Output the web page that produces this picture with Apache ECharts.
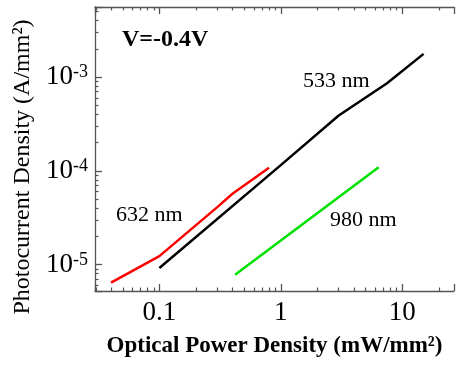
<!DOCTYPE html>
<html>
<head>
<meta charset="utf-8">
<script src="https://cdn.jsdelivr.net/npm/echarts@6/dist/echarts.min.js"></script>
<style>
  html, body { margin: 0; padding: 0; background: #fff; }
  #chart { width: 457px; height: 365px; }
</style>
</head>
<body>
<div id="chart"></div>
<script>
// 632 nm (red)
const red632X = [0.04, 0.1, 0.3, 0.4, 0.8];
const red632Y = [6.4e-6, 1.23e-5, 4.1e-5, 5.7e-5, 1.08e-4];
// 533 nm (black)
const black533X = [0.1, 1, 3, 7.5, 15];
const black533Y = [9.2e-6, 1.15e-4, 3.9e-4, 8.6e-4, 1.77e-3];
// 980 nm (green)
const green980X = [0.42, 6.4];
const green980Y = [7.8e-6, 1.09e-4];

// tick labels
const xMajor = [0.1, 1, 10];
const xTickLabels = ['0.1', '1', '10'];
const yMajor = [1e-5, 1e-4, 1e-3];
const yTickExponents = ['-5', '-4', '-3'];

const X_MIN = 0.0295, X_MAX = 26.7;
const Y_MIN = 5.22e-6, Y_MAX = 5.6e-3;

const serif = '"Liberation Serif", "Times New Roman", serif';
const axisGray = '#555';

const pairs = (xs, ys) => xs.map((x, i) => [x, ys[i]]);
const findIdx = (arr, v) => arr.findIndex(a => Math.abs(a - v) / a < 1e-6);

const chart = echarts.init(document.getElementById('chart'));

// log axes: default major ticks at the decades, minor ticks at 2..9
const tickCommon = {
  axisTick: { show: true, inside: true, length: 7, lineStyle: { color: axisGray, width: 1.3 } },
  minorTick: { show: true, splitNumber: 9, length: 3.5, lineStyle: { color: axisGray, width: 1.2 } },
  axisLine: { show: true, lineStyle: { color: axisGray, width: 1.3 } },
  splitLine: { show: false },
  minorSplitLine: { show: false }
};

const option = {
  backgroundColor: '#fff',
  animation: false,
  grid: { left: 95, right: 0, top: 7, bottom: 74 },
  xAxis: [
    Object.assign({
      type: 'log',
      min: X_MIN,
      max: X_MAX,
      position: 'bottom',
      axisLabel: {
        margin: 8,
        color: '#000',
        fontFamily: serif,
        fontSize: 27,
        formatter: (v) => { const i = findIdx(xMajor, v); return i < 0 ? '' : xTickLabels[i]; }
      },
      name: 'Optical Power Density (mW/mm²)',
      nameLocation: 'middle',
      nameGap: 44,
      nameTextStyle: { color: '#000', fontFamily: serif, fontSize: 23, fontWeight: 'bold' }
    }, tickCommon),
    Object.assign({
      type: 'log',
      min: X_MIN,
      max: X_MAX,
      position: 'top',
      axisLabel: { show: false }
    }, tickCommon)
  ],
  yAxis: [
    Object.assign({
      type: 'log',
      min: Y_MIN,
      max: Y_MAX,
      position: 'left',
      axisLabel: {
        margin: 7,
        formatter: (v) => {
          const i = findIdx(yMajor, v);
          return i < 0 ? '' : '{b|10}{s|' + yTickExponents[i] + '}';
        },
        rich: {
          b: { fontFamily: serif, fontSize: 27, color: '#000' },
          s: { fontFamily: serif, fontSize: 18, color: '#000', verticalAlign: 'top' }
        }
      },
      name: 'Photocurrent Density (A/mm²)',
      nameLocation: 'middle',
      nameGap: 55,
      nameTextStyle: { color: '#000', fontFamily: serif, fontSize: 24, padding: [0, 36, 0, 0] }
    }, tickCommon)
  ],
  series: [
    {
      name: '632 nm', type: 'line', xAxisIndex: 0, yAxisIndex: 0,
      data: pairs(red632X, red632Y), showSymbol: false,
      lineStyle: { color: '#ff0000', width: 2.5 }
    },
    {
      name: '533 nm', type: 'line', xAxisIndex: 0, yAxisIndex: 0,
      data: pairs(black533X, black533Y), showSymbol: false,
      lineStyle: { color: '#000000', width: 2.5 }
    },
    {
      name: '980 nm', type: 'line', xAxisIndex: 0, yAxisIndex: 0,
      data: pairs(green980X, green980Y), showSymbol: false,
      lineStyle: { color: '#00e000', width: 2.5 }
    }
  ],
  graphic: [
    { type: 'text', left: 122, top: 28, style: { text: 'V=-0.4V', font: 'bold 24px ' + serif, fill: '#000' } },
    { type: 'text', left: 303, top: 70, style: { text: '533 nm', font: '22px ' + serif, fill: '#000' } },
    { type: 'text', left: 116, top: 204, style: { text: '632 nm', font: '22px ' + serif, fill: '#000' } },
    { type: 'text', left: 330, top: 209, style: { text: '980 nm', font: '22px ' + serif, fill: '#000' } }
  ]
};

chart.setOption(option);
</script>
</body>
</html>
